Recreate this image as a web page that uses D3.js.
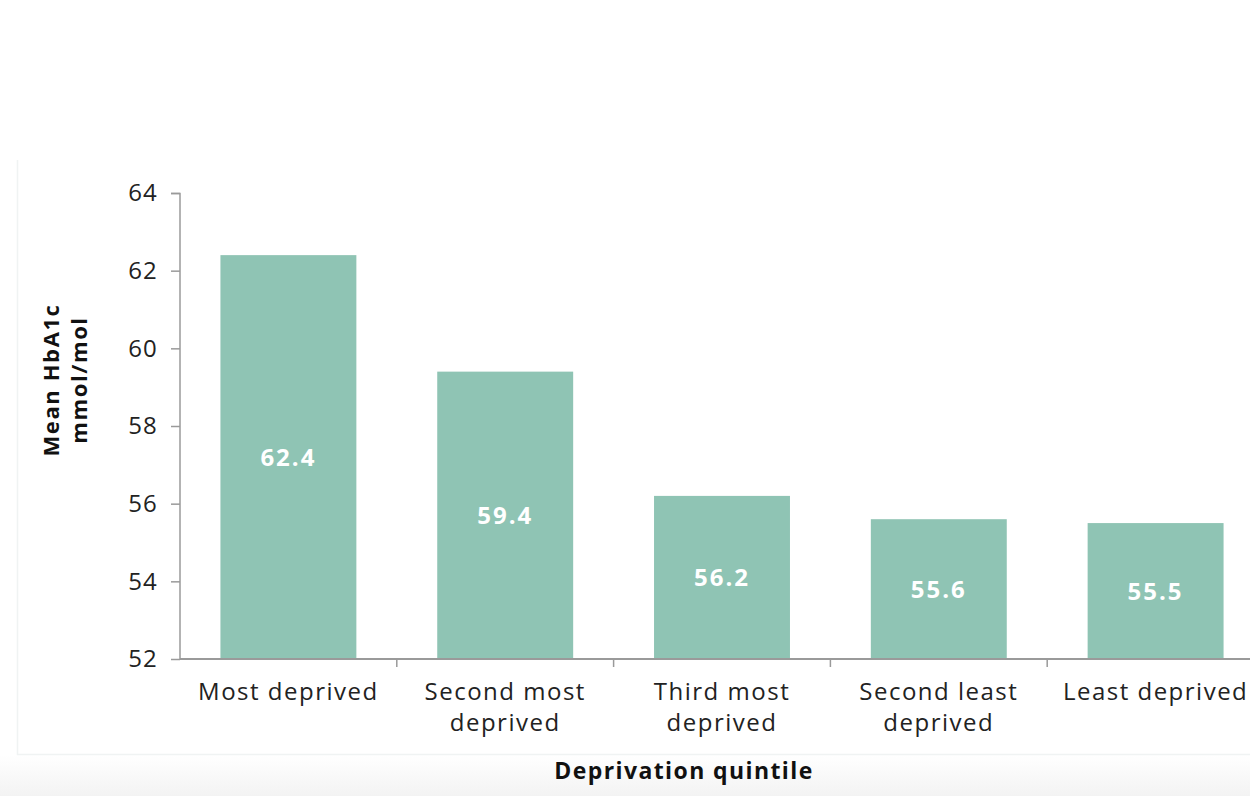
<!DOCTYPE html>
<html><head><meta charset="utf-8">
<script src="https://cdn.jsdelivr.net/npm/d3@7"></script>
<style>
html,body{margin:0;padding:0;background:#fff;}
svg{display:block;}
</style></head>
<body>
<svg id="chart" width="1250" height="796"></svg>
<script>
const categories = ["Most deprived", "Second most deprived", "Third most deprived", "Second least deprived", "Least deprived"];
const categoryLines = [["Most deprived"], ["Second most", "deprived"], ["Third most", "deprived"], ["Second least", "deprived"], ["Least deprived"]];
const values = [62.4, 59.4, 56.2, 55.6, 55.5];
const yTicks = [52, 54, 56, 58, 60, 62, 64];
const yTitle = ["Mean HbA1c", "mmol/mol"];
const xTitle = "Deprivation quintile";

const svg = d3.select("#chart");
const font = "'Open Sans', 'Noto Sans', sans-serif";

// background panel and bottom band
const defs = svg.append("defs");
const grad = defs.append("linearGradient").attr("id", "band").attr("x1", 0).attr("y1", 0).attr("x2", 0).attr("y2", 1);
grad.append("stop").attr("offset", "0%").attr("stop-color", "#ffffff");
grad.append("stop").attr("offset", "100%").attr("stop-color", "#f3f3f3");
svg.append("rect").attr("x", 0).attr("y", 755).attr("width", 1250).attr("height", 41).attr("fill", "url(#band)");
svg.append("path").attr("d", "M17.5,160V754.5H1250").attr("fill", "none").attr("stroke", "#f0f3f3").attr("stroke-width", 1.5);

const x = d3.scaleBand().domain(categories).range([180, 1264]).paddingInner(0.373).paddingOuter(0.1865);
const y = d3.scaleLinear().domain([52, 64]).range([659, 193]);

// bars
svg.selectAll("rect.bar").data(values).enter().append("rect")
  .attr("class", "bar")
  .attr("x", (d, i) => x(categories[i]))
  .attr("y", d => y(d))
  .attr("width", x.bandwidth())
  .attr("height", d => y(52) - y(d))
  .attr("fill", "#8fc4b4");

// value labels
svg.selectAll("text.val").data(values).enter().append("text")
  .attr("class", "val")
  .attr("x", (d, i) => x(categories[i]) + x.bandwidth() / 2)
  .attr("y", d => (y(d) + y(52)) / 2)
  .attr("dy", "0.36em")
  .attr("text-anchor", "middle")
  .attr("fill", "#fff")
  .attr("font-family", font)
  .attr("font-weight", "bold")
  .attr("font-size", 24)
  .attr("letter-spacing", 2)
  .text(d => d.toFixed(1));

// y axis
const yAxis = d3.axisLeft(y).tickValues(yTicks).tickSize(9).tickPadding(13).tickFormat(d3.format("d"));
const gy = svg.append("g").attr("transform", "translate(180,0)").call(yAxis);
gy.select(".domain").attr("stroke", "#9a9a9a").attr("stroke-width", 1.5).attr("d", "M-9,193.5H0V659");
gy.selectAll(".tick line").attr("stroke", "#9a9a9a").attr("stroke-width", 1.5);
gy.selectAll(".tick text").attr("font-family", font).attr("font-size", 24).attr("fill", "#222").attr("letter-spacing", 1.2);

// x axis
const gx = svg.append("g").attr("transform", "translate(0,659)");
gx.append("line").attr("x1", 180).attr("x2", 1250).attr("y1", 0).attr("y2", 0)
  .attr("stroke", "#9a9a9a").attr("stroke-width", 2);
const bounds = categories.map((c, i) => 180 + i * x.step());
gx.selectAll("line.tk").data(bounds.slice(1)).enter().append("line")
  .attr("class", "tk")
  .attr("x1", d => d).attr("x2", d => d).attr("y1", 0).attr("y2", 8)
  .attr("stroke", "#9a9a9a").attr("stroke-width", 1.5);
const xl = gx.selectAll("text.xl").data(categories).enter().append("text")
  .attr("class", "xl")
  .attr("x", c => x(c) + x.bandwidth() / 2)
  .attr("y", 41)
  .attr("text-anchor", "middle")
  .attr("font-family", font)
  .attr("font-size", 24)
  .attr("letter-spacing", 1.5)
  .attr("fill", "#222");
xl.each(function (c, i) {
  const t = d3.select(this);
  categoryLines[i].forEach((ln, j) => {
    t.append("tspan").attr("x", x(c) + x.bandwidth() / 2).attr("dy", j === 0 ? 0 : 31).text(ln);
  });
});

// axis titles
const yt = svg.append("text")
  .attr("transform", "translate(66,380) rotate(-90)")
  .attr("text-anchor", "middle")
  .attr("font-family", font)
  .attr("font-weight", "bold")
  .attr("font-size", 22)
  .attr("letter-spacing", 1.6)
  .attr("fill", "#111");
yTitle.forEach((ln, j) => yt.append("tspan").attr("x", 0).attr("y", j === 0 ? -7 : 21).text(ln));

svg.append("text")
  .attr("x", 684).attr("y", 779)
  .attr("text-anchor", "middle")
  .attr("font-family", font)
  .attr("font-weight", "bold")
  .attr("font-size", 23)
  .attr("letter-spacing", 1.4)
  .attr("fill", "#111")
  .text(xTitle);
</script>
</body></html>
